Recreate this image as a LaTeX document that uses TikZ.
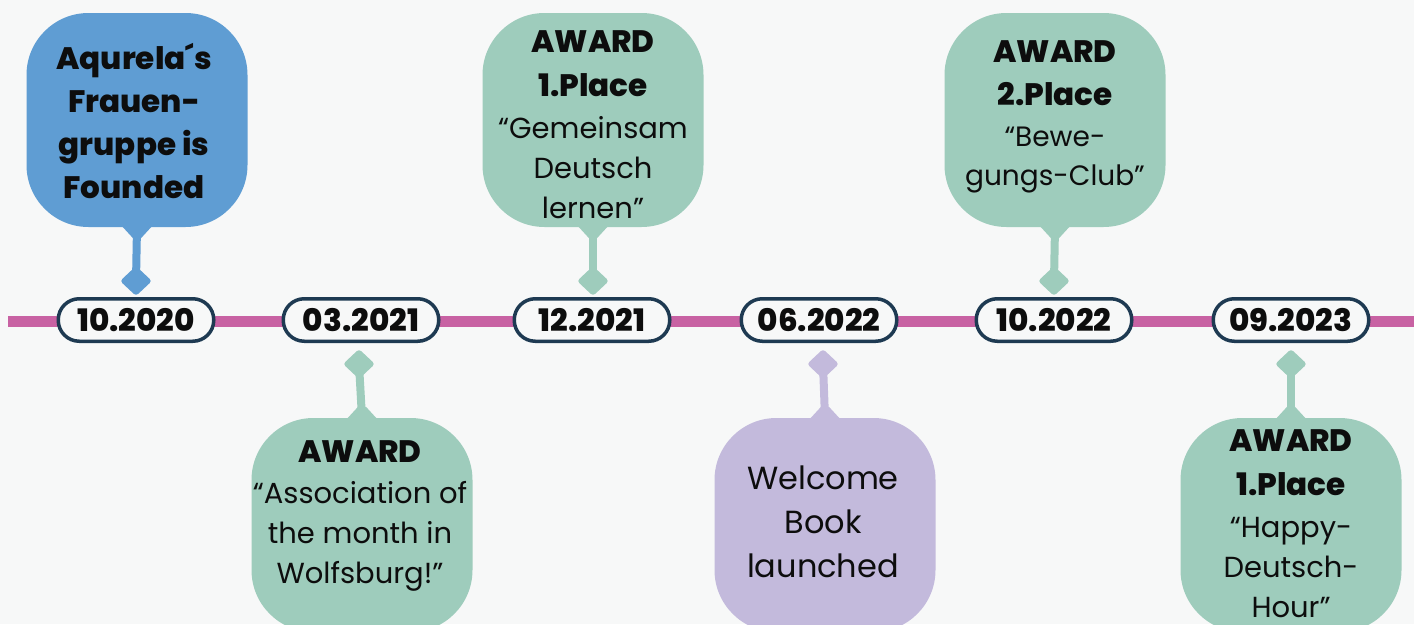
\documentclass[tikz,border=0pt]{standalone}
\usepackage{fontspec}
\setmainfont{Poppins}[BoldFont={Poppins ExtraBold}]
\usetikzlibrary{shapes.geometric,calc}
\definecolor{bg}{HTML}{F7F8F8}
\definecolor{linepink}{HTML}{C862A3}
\definecolor{navy}{HTML}{1E3A52}
\definecolor{mint}{HTML}{9ECCBC}
\definecolor{skyblue}{HTML}{5F9DD3}
\definecolor{lilac}{HTML}{C3BADC}
\definecolor{ink}{HTML}{0D0D0D}
\newcommand{\bl}[1]{{\fontsize{31}{43}\selectfont\bfseries #1}}
\begin{document}
\begin{tikzpicture}[x=1pt,y=-1pt,
  bubble/.style={rounded corners=62pt, minimum width=221pt, minimum height=214pt, inner sep=0pt, draw=none},
  pill/.style={draw=navy, line width=3.5pt, fill=bg, rounded corners=21pt, minimum width=155.5pt, minimum height=42.5pt, inner sep=0pt, text=ink, font=\fontsize{31}{32}\selectfont\bfseries},
  gem/.style={diamond, minimum width=32pt, minimum height=30pt, inner sep=0pt, rounded corners=3pt},
  stem/.style={line width=8pt},
  txt/.style={align=center, text=ink, font=\fontsize{29}{40}\selectfont},
  btxt/.style={align=center, text=ink, font=\fontsize{31}{43}\selectfont\bfseries},
]
\fill[bg] (0,0) rectangle (1414,624);
\clip (0,0) rectangle (1414,624);

% timeline
\coordinate (L) at (8,321);
\coordinate (R) at (1414,321);
\draw[linepink, line width=11pt] (L) -- (R);

% ---------- top events ----------
% 1: blue
\node[bubble, fill=skyblue] (b1) at (137,120) {};
\node[gem, fill=skyblue] (d1) at (136,281) {};
\draw[stem, skyblue] (b1.south) -- (d1.center);
\fill[skyblue] ($(b1.south)+(-15,-1)$) -- ($(b1.south)+(15,-1)$) -- ($(b1.south)+(4,11)$) -- ($(b1.south)+(-4,11)$) -- cycle;
\node[btxt] (t1) at (134,121) {Aqurela´s\\Frauen-\\gruppe is\\Founded};

% 3: mint
\node[bubble, fill=mint] (b3) at (593,120) {};
\node[gem, fill=mint] (d3) at (593,281) {};
\draw[stem, mint] (b3.south) -- (d3.center);
\fill[mint] ($(b3.south)+(-15,-1)$) -- ($(b3.south)+(15,-1)$) -- ($(b3.south)+(4,11)$) -- ($(b3.south)+(-4,11)$) -- cycle;
\node[txt] (t3) at (593,125) {\bl{AWARD}\\[4pt]\bl{1.Place}\\[2pt]“Gemeinsam\\Deutsch\\lernen”};

% 5: mint
\node[bubble, fill=mint] (b5) at (1055,120) {};
\node[gem, fill=mint] (d5) at (1054,281) {};
\draw[stem, mint] (b5.south) -- (d5.center);
\fill[mint] ($(b5.south)+(-15,-1)$) -- ($(b5.south)+(15,-1)$) -- ($(b5.south)+(4,11)$) -- ($(b5.south)+(-4,11)$) -- cycle;
\node[txt, font=\fontsize{28}{39}\selectfont] (t5) at (1055,117) {\bl{AWARD}\\[4pt]\bl{2.Place}\\[2pt]“Bewe-\\gungs-Club”};

% ---------- bottom events ----------
% 2: mint
\node[bubble, fill=mint] (b2) at (362,525) {};
\node[gem, fill=mint] (d2) at (359,364) {};
\draw[stem, mint] (b2.north) -- (d2.center);
\fill[mint] ($(b2.north)+(-15,1)$) -- ($(b2.north)+(15,1)$) -- ($(b2.north)+(4,-11)$) -- ($(b2.north)+(-4,-11)$) -- cycle;
\node[txt] (t2) at (360,516) {\bl{AWARD}\\[1pt]“Association of\\the month in\\Wolfsburg!”};

% 4: lilac
\node[bubble, fill=lilac] (b4) at (825,525) {};
\node[gem, fill=lilac] (d4) at (823,364) {};
\draw[stem, lilac] (b4.north) -- (d4.center);
\fill[lilac] ($(b4.north)+(-15,1)$) -- ($(b4.north)+(15,1)$) -- ($(b4.north)+(4,-11)$) -- ($(b4.north)+(-4,-11)$) -- cycle;
\node[txt, font=\fontsize{32}{44}\selectfont] (t4) at (823,522) {Welcome\\Book\\launched};

% 6: mint
\node[bubble, fill=mint] (b6) at (1291,525) {};
\node[gem, fill=mint] (d6) at (1291,364) {};
\draw[stem, mint] (b6.north) -- (d6.center);
\fill[mint] ($(b6.north)+(-15,1)$) -- ($(b6.north)+(15,1)$) -- ($(b6.north)+(4,-11)$) -- ($(b6.north)+(-4,-11)$) -- cycle;
\node[txt] (t6) at (1291,524) {\bl{AWARD}\\[4pt]\bl{1.Place}\\[2pt]“Happy-\\Deutsch-\\Hour”};

% ---------- date pills ----------
\node[pill] (p1) at (136,320) {10.2020};
\node[pill] (p2) at (361,320) {03.2021};
\node[pill] (p3) at (592,320) {12.2021};
\node[pill] (p4) at (819,320) {06.2022};
\node[pill] (p5) at (1054,320) {10.2022};
\node[pill] (p6) at (1291,320) {09.2023};
\end{tikzpicture}
\end{document}
